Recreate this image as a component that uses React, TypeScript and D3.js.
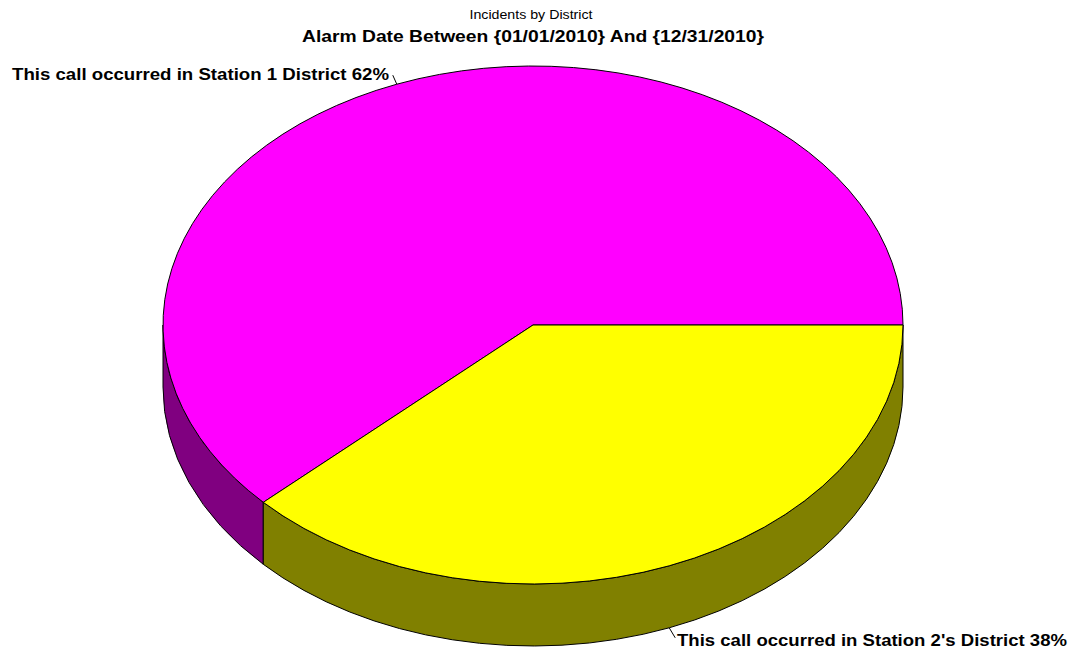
import React from "react";
import * as d3 from "d3";

const titleText = "Incidents by District";
const subtitleText = "Alarm Date Between {01/01/2010} And {12/31/2010}";
const categories = ["This call occurred in Station 1 District", "This call occurred in Station 2's District"];
const values = [62, 38];
const topColors = ["#FF00FF", "#FFFF00"];
const sideColors = ["#800080", "#808000"];

const W = 1078;
const H = 651;
const cx = 533;
const cy = 325;
const rx = 370;
const ry = 259;
const depth = 62;

const pt = (t: number, dy = 0): [number, number] => [cx + rx * Math.cos(t), cy - ry * Math.sin(t) + dy];

export default function App() {
  // d3 angles: clockwise from 12 o'clock; start at 3 o'clock, go counter-clockwise
  const pie = d3
    .pie<number>()
    .sort(null)
    .startAngle(Math.PI / 2)
    .endAngle(Math.PI / 2 - 2 * Math.PI);
  const arcs = pie(values);
  const slices = arcs.map((a, i) => {
    const t0 = Math.PI / 2 - a.startAngle;
    const t1 = Math.PI / 2 - a.endAngle;
    return { i, t0: Math.min(t0, t1), t1: Math.max(t0, t1) };
  });

  const topPath = (t0: number, t1: number) => {
    const [x0, y0] = pt(t0);
    const [x1, y1] = pt(t1);
    const large = t1 - t0 > Math.PI ? 1 : 0;
    return `M${cx},${cy}L${x0},${y0}A${rx},${ry} 0 ${large} 0 ${x1},${y1}Z`;
  };
  const sidePath = (t0: number, t1: number) => {
    const a = Math.max(t0, Math.PI);
    const b = Math.min(t1, 2 * Math.PI);
    if (b <= a) return null;
    const [x0, y0] = pt(a);
    const [x1, y1] = pt(b);
    const large = b - a > Math.PI ? 1 : 0;
    return `M${x0},${y0}A${rx},${ry} 0 ${large} 0 ${x1},${y1}L${x1},${y1 + depth}A${rx},${ry} 0 ${large} 1 ${x0},${y0 + depth}Z`;
  };

  const font = "'Liberation Sans', Arial, sans-serif";

  // label anchors at slice mid-angles
  const mid = slices.map((s) => (s.t0 + s.t1) / 2);
  const a1 = pt(mid[0]);
  const m2 = pt(mid[1]);
  const a2: [number, number] = [m2[0], m2[1] + (Math.sin(mid[1]) < 0 ? depth : 0)];

  return (
    <svg width={W} height={H} style={{ position: "absolute", left: 0, top: 0, background: "#fff" }}>
      <text x={531} y={19} textAnchor="middle" fontFamily={font} fontSize={12} textLength={123} lengthAdjust="spacingAndGlyphs">
        {titleText}
      </text>
      <text x={533} y={42} textAnchor="middle" fontFamily={font} fontSize={17} fontWeight="bold" textLength={462} lengthAdjust="spacingAndGlyphs">
        {subtitleText}
      </text>
      {slices.map((s) => {
        const d = sidePath(s.t0, s.t1);
        return d ? <path key={"s" + s.i} d={d} fill={sideColors[s.i]} stroke="#000" strokeWidth={1} /> : null;
      })}
      {slices.map((s) => (
        <path key={"t" + s.i} d={topPath(s.t0, s.t1)} fill={topColors[s.i]} stroke="#000" strokeWidth={1} />
      ))}
      <line x1={a1[0]} y1={a1[1]} x2={a1[0] - 4} y2={a1[1] - 9} stroke="#000" strokeWidth={1} />
      <text x={12} y={80} fontFamily={font} fontSize={17} fontWeight="bold" textLength={377} lengthAdjust="spacingAndGlyphs">
        {`${categories[0]} ${values[0]}%`}
      </text>
      <line x1={a2[0]} y1={a2[1]} x2={a2[0] + 6} y2={a2[1] + 10} stroke="#000" strokeWidth={1} />
      <text x={677} y={646} fontFamily={font} fontSize={17} fontWeight="bold" textLength={390} lengthAdjust="spacingAndGlyphs">
        {`${categories[1]} ${values[1]}%`}
      </text>
    </svg>
  );
}
